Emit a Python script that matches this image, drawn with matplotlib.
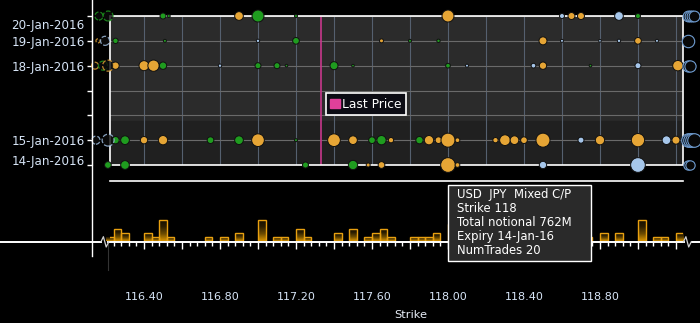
import numpy as np
import matplotlib
matplotlib.use('Agg')
import matplotlib.pyplot as plt
from matplotlib.lines import Line2D
from matplotlib.patches import Rectangle, Patch
from matplotlib.transforms import ScaledTranslation
from matplotlib.ticker import MultipleLocator, FuncFormatter
from matplotlib.colors import LinearSegmentedColormap

W, H = 700, 323

# USDJPY option trades: strike, total notional (USD m), type (C call, P put, M mixed C/P)
strikes_20 = [116.50, 116.53, 116.90, 117.00, 117.20, 118.00, 118.60, 118.65, 118.70, 118.90, 119.00]
notional_20 = [127, 32, 267, 508, 32, 508, 88, 173, 173, 267, 88]
kind_20 = 'CCMCCMPMMPC'

strikes_19 = [116.25, 116.51, 117.00, 117.20, 117.65, 117.80, 117.95, 118.50, 118.60, 118.80, 118.90, 119.00, 119.10]
notional_19 = [100, 32, 40, 158, 56, 32, 40, 226, 32, 25, 40, 158, 32]
kind_19 = 'CCPCMCCMPPPMP'

strikes_18 = [116.25, 116.40, 116.45, 116.50, 116.80, 117.00, 117.10, 117.15, 117.40, 117.50,
              118.00, 118.10, 118.45, 118.50, 118.75, 119.00, 119.21, 119.29]
notional_18 = [190, 353, 450, 190, 40, 127, 127, 25, 226, 25,
               78, 32, 78, 190, 25, 127, 380, 127]
kind_18 = 'MMMCPCCCCCCPPMCPMP'

strikes_15 = [116.25, 116.30, 116.40, 116.50, 116.75, 116.90, 117.00, 117.20, 117.40, 117.50,
              117.60, 117.65, 117.70, 117.85, 117.90, 117.95, 118.00, 118.05, 118.25, 118.30,
              118.35, 118.40, 118.50, 118.70, 118.80, 119.00, 119.15, 119.20]
notional_15 = [190, 267, 190, 305, 158, 267, 569, 32, 569, 267,
               158, 305, 100, 190, 305, 158, 692, 78, 100, 404,
               267, 158, 692, 127, 305, 625, 267, 226]
kind_15 = 'CCMMCCMCMMCCMCMMMMMMMMMPMMPM'

strikes_14 = [116.21, 116.30, 117.25, 117.50, 117.58, 117.65, 118.00, 118.05, 118.50, 119.00]
notional_14 = [158, 267, 127, 305, 56, 158, 762, 78, 190, 762]
kind_14 = 'CCCCMMMMPP'

expiry_days = [20, 19, 18, 15, 14]
expiry_labels = ['20-Jan-2016', '19-Jan-2016', '18-Jan-2016', '15-Jan-2016', '14-Jan-2016']
rows = [(strikes_20, notional_20, kind_20), (strikes_19, notional_19, kind_19),
        (strikes_18, notional_18, kind_18), (strikes_15, notional_15, kind_15),
        (strikes_14, notional_14, kind_14)]

# trades further out of range, shown as faint markers left of the window
off_day = [20, 20, 19, 19, 18, 18, 18, 15, 15]
off_strike = [116.163, 116.211, 116.158, 116.195, 116.142, 116.184, 116.211, 116.147, 116.211]
off_kind = 'CCMPMCMPP'
off_notional = [230, 350, 60, 290, 170, 290, 430, 230, 500]

# number of stacked trades beyond the right edge per expiry
more_right = [4, 1, 2, 4, 2]
more_size = [60, 80, 65, 95, 45]

# traded notional per 0.04 strike bucket (left edge, units of 100m)
bucket_left = [116.20, 116.24, 116.28, 116.40, 116.44, 116.48, 116.52, 116.72, 116.80, 116.88,
               117.00, 117.08, 117.12, 117.20, 117.24, 117.40, 117.48, 117.56, 117.60, 117.64,
               117.68, 117.80, 117.84, 117.88, 117.92, 118.00, 118.24, 118.28, 118.48, 118.72,
               118.80, 118.88, 119.00, 119.08, 119.12, 119.20]
bucket_value = [1, 3, 2, 2, 1, 5, 1, 1, 1, 2,
                5, 1, 1, 3, 1, 2, 3, 1, 2, 3,
                1, 1, 1, 1, 2, 4, 2, 2, 4, 1,
                2, 2, 5, 1, 1, 2]

last_price = 117.33
tooltip_lines = ['USD  JPY  Mixed C/P', 'Strike 118', 'Total notional 762M',
                 'Expiry 14-Jan-16', 'NumTrades 20']

colors = {'C': '#1f9c1f', 'M': '#e6a535', 'P': '#a6c6ea'}
label_col = '#d6e4f6'


def fx(p):
    return p / W


def fy(p):
    return 1 - p / H


fig = plt.figure(figsize=(7, 3.23), dpi=100, facecolor='black')

# bubble panel
ax = fig.add_axes([fx(110), fy(165), 573 / W, 149 / H])
ax.set_facecolor('#2b2b2b')
ax.set_xlim(116.221, 119.237)
ax.set_ylim(14, 20)
ax.axhspan(14, 15.78, color='#202020', zorder=0)
for x in np.arange(116.4, 119.21, 0.2):
    ax.axvline(x, color='#55606f', lw=0.8, zorder=0.5)
for d in range(14, 21):
    ax.axhline(d, color='#6a6a6a', lw=0.8, zorder=0.5)
ax.axvline(last_price, color='#c8388c', lw=1.2, zorder=1)

for day, (st, nt, kd) in zip(expiry_days, rows):
    ax.scatter(st, [day] * len(st), s=np.array(nt) * 0.147,
               c=[colors[k] for k in kd], edgecolors='#111111', linewidths=0.7,
               zorder=4, clip_on=False)

ax.scatter(off_strike, off_day, s=np.array(off_notional) * 0.147, facecolors='#0c0c0c',
           edgecolors=[colors[k] for k in off_kind], linewidths=0.9, linestyles='--',
           zorder=4, clip_on=False, alpha=0.8)

for day, n, sz in zip(expiry_days, more_right, more_size):
    for k in range(n):
        ax.scatter(119.263 + k * 0.011, day, s=sz, facecolors='#080808',
                   edgecolors='#6f9cd0', linewidths=0.8, zorder=5, clip_on=False)

ax.add_patch(Rectangle((0, 0), 1, 1, transform=ax.transAxes, fill=False,
                       ec='white', lw=1.2, zorder=3, clip_on=False))
for side in ['top', 'right', 'bottom']:
    ax.spines[side].set_visible(False)
ax.spines['left'].set_position(('outward', 13))
ax.spines['left'].set_color('white')
ax.set_xticks([])
ax.set_yticks(range(14, 21))
ax.set_yticklabels([expiry_labels[expiry_days.index(d)] if d in expiry_days else ''
                    for d in range(14, 21)])
ax.tick_params(axis='y', colors='white', length=3.6, width=1, pad=1.5,
               labelcolor=label_col, labelsize=8.6)
ylabels = ax.get_yticklabels()
ylabels[-1].set_transform(ylabels[-1].get_transform() + ScaledTranslation(0, -0.08, fig.dpi_scale_trans))
ylabels[0].set_transform(ylabels[0].get_transform() + ScaledTranslation(0, 0.055, fig.dpi_scale_trans))

leg = ax.legend(handles=[Patch(color='#e0409a')], labels=['Last Price'],
                loc='upper left', bbox_to_anchor=(fx(326), fy(93.3)),
                bbox_transform=fig.transFigure, borderaxespad=0, fontsize=8.8,
                handlelength=0.8, handleheight=0.8, handletextpad=0.2,
                borderpad=0.35, fancybox=False, framealpha=1)
leg.get_frame().set_facecolor('#0c0c14')
leg.get_frame().set_edgecolor('white')
leg.get_frame().set_linewidth(1.2)
for t in leg.get_texts():
    t.set_color('white')
leg.set_zorder(6)

# volume panel
ax2 = fig.add_axes([fx(110), fy(241.5), 573 / W, 60.5 / H])
ax2.set_facecolor('none')
cmap = LinearSegmentedColormap.from_list('vol', ['#d89400', '#6a4a00', '#2a1d00', '#120c00'])
grad = np.linspace(0, 1, 64).reshape(-1, 1)
bw = 0.04
for x0, v in zip(bucket_left, bucket_value):
    bar = ax2.bar(x0, v, width=bw, align='edge', facecolor='none',
                  edgecolor='#e8a010', linewidth=1.0, zorder=3)[0]
    im = ax2.imshow(grad, cmap=cmap, origin='lower', aspect='auto',
                    extent=(x0, x0 + bw, 0, v), zorder=2)
    im.set_clip_path(bar)
ax2.set_xlim(ax.get_xlim())
ax2.set_ylim(0, 60.5 / 4.27)

for side in ['left', 'right', 'bottom']:
    ax2.spines[side].set_visible(False)
ax2.spines['top'].set_color('white')
ax2.spines['top'].set_linewidth(1.2)
ax2.set_yticks([])
ax2.xaxis.set_major_locator(MultipleLocator(0.2))
ax2.xaxis.set_minor_locator(MultipleLocator(0.04))
ax2.xaxis.set_major_formatter(FuncFormatter(
    lambda v, p: f'{v:.2f}' if abs(v / 0.4 - round(v / 0.4)) < 1e-6 and v < 119.1 else ''))
ax2.tick_params(axis='x', which='major', colors='white', length=5, width=1,
                pad=31, labelcolor=label_col, labelsize=8)
ax2.tick_params(axis='x', which='minor', colors='white', length=3, width=1)

# axis lines, breaks and strike label
fig.add_artist(Line2D([fx(92), fx(92)], [fy(0), fy(256)], color='white', lw=1.0))
fig.add_artist(Line2D([fx(0), fx(101)], [fy(241.7)] * 2, color='white', lw=1.4))
fig.add_artist(Line2D([fx(108.3), fx(683.5)], [fy(241.7)] * 2, color='white', lw=1.4))
fig.add_artist(Line2D([fx(691.5), fx(700)], [fy(241.7)] * 2, color='white', lw=1.4))
fig.add_artist(Line2D([fx(108), fx(108)], [fy(243), fy(270)], color='#333333', lw=0.8))
for xa in (101, 683.5):
    fig.add_artist(Line2D([fx(xa), fx(xa + 2.4), fx(xa + 5.2), fx(xa + 7.8)],
                          [fy(241.7), fy(236.7), fy(247), fy(241.7)],
                          color='#d0d0d0', lw=0.9))
fig.text(fx(411), fy(315), 'Strike', color='#e8eef8', fontsize=8.2, ha='center', va='center')

# hover box
fig.add_artist(Rectangle((fx(448.3), fy(260.7)), (590.7 - 448.3) / W, (260.7 - 185) / H,
                         transform=fig.transFigure, facecolor='#2a2a2a',
                         edgecolor='white', lw=1.0, zorder=5))
for i, line in enumerate(tooltip_lines):
    fig.text(fx(457), fy(194.3 + 14.1 * i), line, color='white', fontsize=8.4,
             ha='left', va='center', zorder=6)

fig.savefig('out.png', dpi=100, facecolor='black')
